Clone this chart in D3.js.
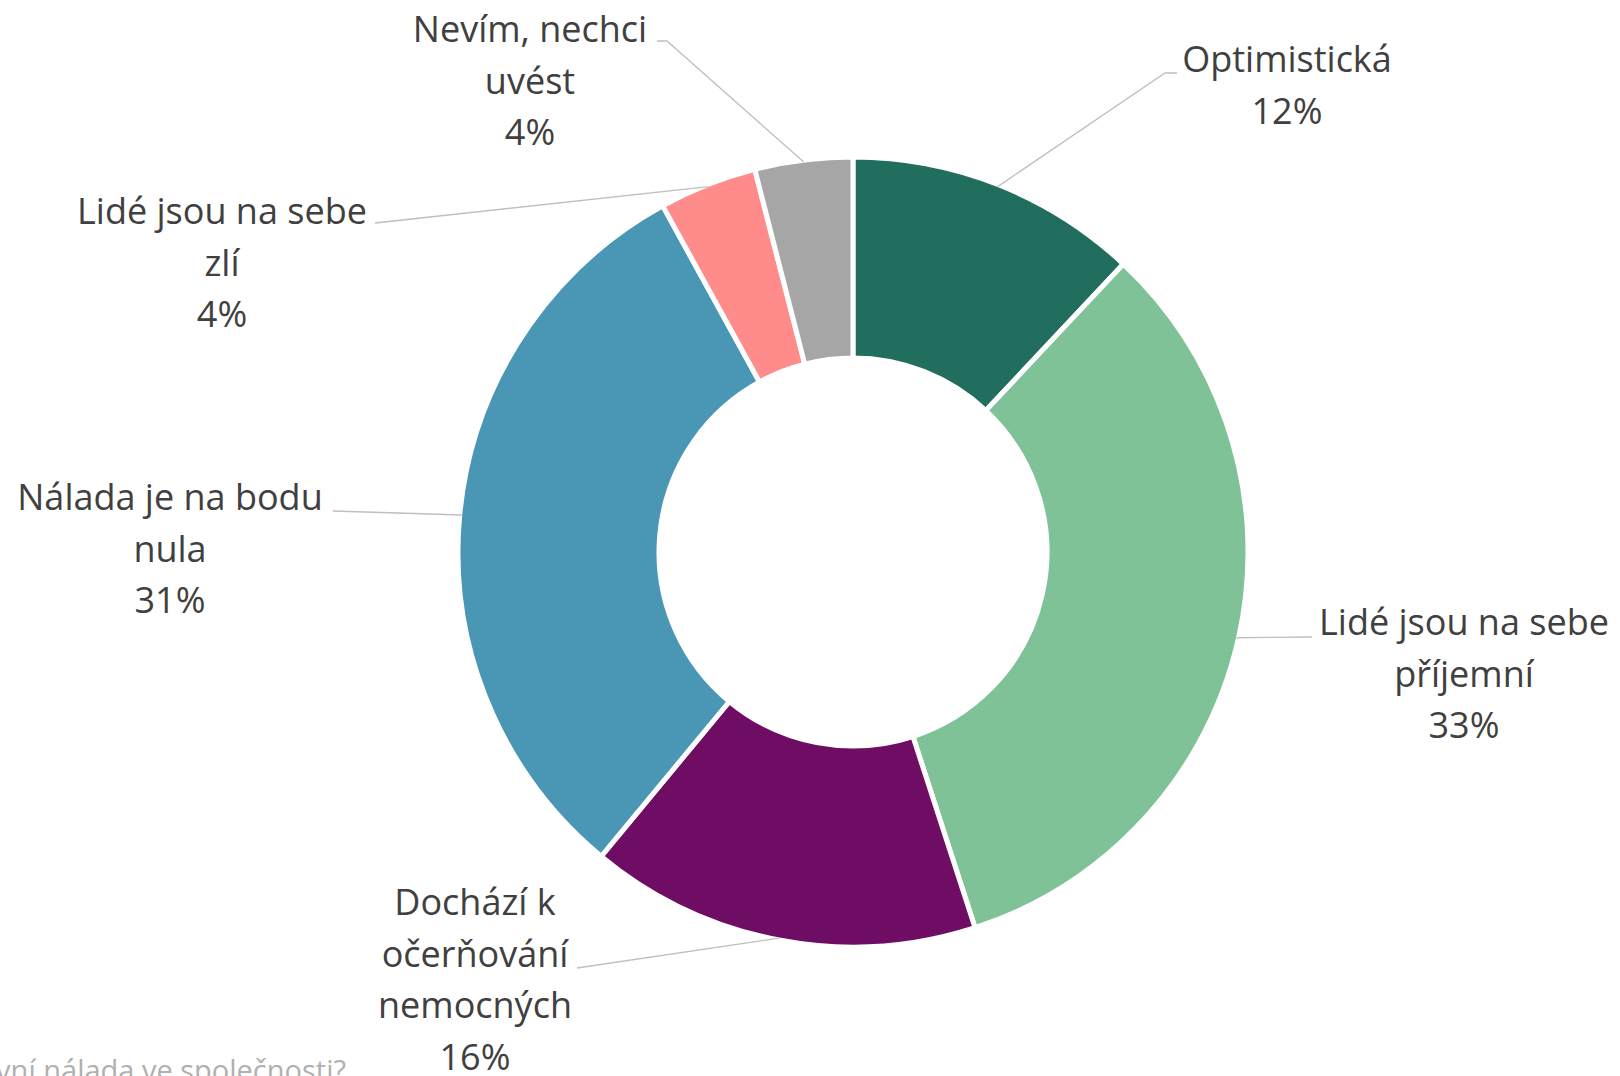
<!DOCTYPE html>
<head>
<meta charset="utf-8">
<script src="https://d3js.org/d3.v7.min.js"></script>
<style>
body {
    margin: 0;
    background-color: white;
}
.label {
    font-family: "Open Sans", sans-serif;
    font-size: 36px;
    fill: #404040;
}
.leader {
    stroke: #bfbfbf;
    stroke-width: 1.3;
    fill: none;
}
</style>
</head>
<body>
<div id="my_dataviz"></div>

<script>

// data
var categories = ["Optimistická", "Lidé jsou na sebe příjemní", "Dochází k očerňování nemocných",
                  "Nálada je na bodu nula", "Lidé jsou na sebe zlí", "Nevím, nechci uvést"];
var labelLines = [["Optimistická"], ["Lidé jsou na sebe", "příjemní"], ["Dochází k", "očerňování", "nemocných"],
                  ["Nálada je na bodu", "nula"], ["Lidé jsou na sebe", "zlí"], ["Nevím, nechci", "uvést"]];
var values = [12, 33, 16, 31, 4, 4];
var colors = ["#226e5e", "#7fc298", "#6e0d63", "#4a96b5", "#ff8b8b", "#a6a6a6"];
var title = "Jaká je podle Vás současná hlavní nálada ve společnosti?";

// where Excel put the labels (layout, not data)
var labelPos = [
  {x: 1287, y: 72,  lx: 1177, ly: 73,  kx: 1165},
  {x: 1464, y: 635, lx: 1312, ly: 637},
  {x: 475,  y: 915, lx: 577,  ly: 968},
  {x: 170,  y: 510, lx: 333,  ly: 511},
  {x: 222,  y: 224, lx: 375,  ly: 223},
  {x: 530,  y: 42,  lx: 657,  ly: 41,  kx: 667}
];

var width = 1620, height = 1076;
var cx = 853, cy = 552;
var outerR = 395, innerR = 194, lineH = 51.5;

var svg = d3.select("#my_dataviz")
  .append("svg")
    .attr("width", width)
    .attr("height", height);

var g = svg.append("g")
    .attr("transform", "translate(" + cx + "," + cy + ")");

var pie = d3.pie().sort(null).value(function(d){ return d; });
var arcs = pie(values);

var arc = d3.arc().innerRadius(innerR).outerRadius(outerR);
var edgeArc = d3.arc().innerRadius(outerR - 2).outerRadius(outerR - 2);

g.selectAll("path.slice")
  .data(arcs)
  .enter()
  .append("path")
    .attr("class", "slice")
    .attr("d", arc)
    .style("fill", function(d, i){ return colors[i]; })
    .style("stroke", "white")
    .style("stroke-width", 5);

// leader lines
arcs.forEach(function(d, i) {
  var p = labelPos[i];
  var end = edgeArc.centroid(d);
  var pts = [[p.lx, p.ly]];
  if (p.kx !== undefined) pts.push([p.kx, p.ly]);
  pts.push([end[0] + cx, end[1] + cy]);
  svg.append("path")
    .attr("class", "leader")
    .attr("d", d3.line()(pts));
});

// labels
arcs.forEach(function(d, i) {
  var p = labelPos[i];
  var lines = labelLines[i].concat([Math.round(values[i]) + "%"]);
  var t = svg.append("text")
    .attr("class", "label")
    .attr("text-anchor", "middle");
  lines.forEach(function(s, k) {
    t.append("tspan")
      .attr("x", p.x)
      .attr("y", p.y + k * lineH)
      .text(s);
  });
});

// title, cut off at the bottom edge as in the source
svg.append("text")
  .attr("x", 346)
  .attr("y", 1081)
  .attr("text-anchor", "end")
  .style("font-family", "\"Open Sans\", sans-serif")
  .style("font-size", "29px")
  .style("fill", "#b0b0b0")
  .text(title);

</script>
</body>
